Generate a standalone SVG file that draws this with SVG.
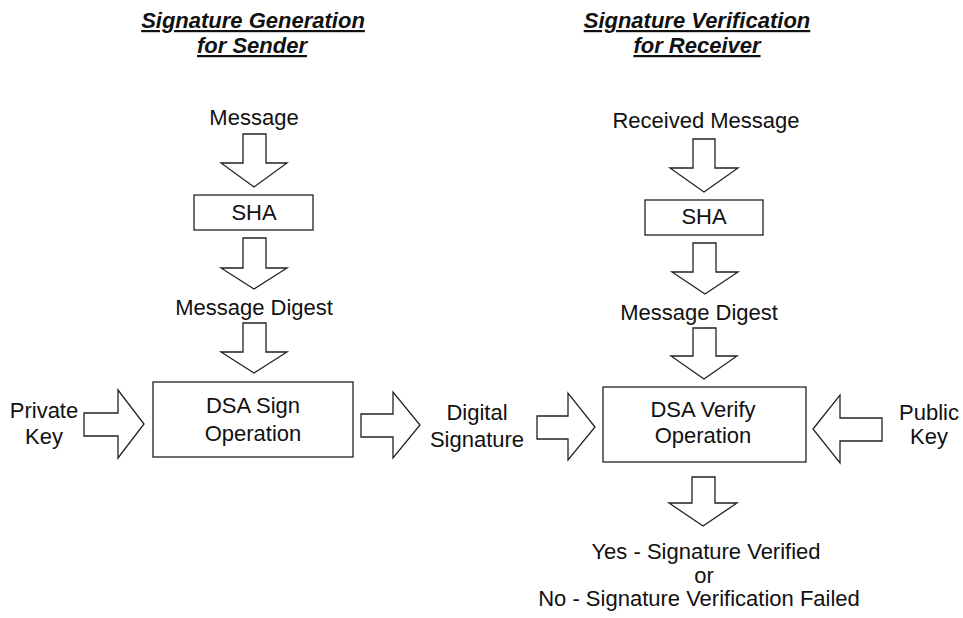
<svg xmlns="http://www.w3.org/2000/svg" width="963" height="618" viewBox="0 0 963 618">
  <style>
    text { font-family: "Liberation Sans", Arial, sans-serif; font-size: 22px; fill: #111; text-anchor: middle; }
    .title { font-weight: bold; font-style: italic; text-decoration: underline; }
    .small { font-size: 21px; }
    .box { fill: #fff; stroke: #222; stroke-width: 1.3; }
    .arrow { fill: #fff; stroke: #222; stroke-width: 1.3; stroke-linejoin: miter; }
  </style>
  <rect width="963" height="618" fill="#fff"/>

  <!-- Column headings -->
  <g id="title-sender">
    <text class="title" x="253" y="28">Signature Generation</text>
    <text class="title" x="252" y="53">for Sender</text>
  </g>
  <g id="title-receiver">
    <text class="title" x="697" y="28">Signature Verification</text>
    <text class="title" x="697" y="53">for Receiver</text>
  </g>

  <!-- Sender side -->
  <g id="message"><text x="254" y="125">Message</text></g>
  <g id="sha-sender">
    <rect class="box" x="194" y="195" width="119" height="35"/>
    <text x="254" y="220">SHA</text>
  </g>
  <g id="digest-sender"><text x="254" y="315">Message Digest</text></g>
  <g id="dsa-sign">
    <rect class="box" x="153" y="382" width="200" height="75"/>
    <text x="253" y="413">DSA Sign</text>
    <text x="253" y="441">Operation</text>
  </g>
  <g id="private-key">
    <text x="44" y="418">Private</text>
    <text x="44" y="444">Key</text>
  </g>
  <g id="digital-signature">
    <text x="477" y="420">Digital</text>
    <text x="477" y="447">Signature</text>
  </g>

  <!-- Receiver side -->
  <g id="received-message"><text x="706" y="128">Received Message</text></g>
  <g id="sha-receiver">
    <rect class="box" x="645" y="200" width="118" height="35"/>
    <text x="704" y="224">SHA</text>
  </g>
  <g id="digest-receiver"><text x="699" y="320">Message Digest</text></g>
  <g id="dsa-verify">
    <rect class="box" x="603" y="387" width="203" height="75"/>
    <text x="703" y="417">DSA Verify</text>
    <text x="703" y="443">Operation</text>
  </g>
  <g id="public-key">
    <text x="929" y="420">Public</text>
    <text x="929" y="444">Key</text>
  </g>
  <g id="result">
    <text x="706" y="559">Yes - Signature Verified</text>
    <text x="704" y="583">or</text>
    <text x="699" y="606">No - Signature Verification Failed</text>
  </g>

  <!-- Block arrows -->
  <g id="connectors">
    <!-- sender column, downward -->
    <polygon class="arrow" points="243,134 266,134 266,163 287,163 254,187 221,163 243,163"/>
    <polygon class="arrow" points="243,238 266,238 266,268 287,268 254,289 221,268 243,268"/>
    <polygon class="arrow" points="243,323 266,323 266,352 287,352 254,373 221,352 243,352"/>
    <!-- receiver column, downward -->
    <polygon class="arrow" points="693,139 715,139 715,168 738,168 704,192 670,168 693,168"/>
    <polygon class="arrow" points="693,243 716,243 716,272 738,272 705,294 672,272 693,272"/>
    <polygon class="arrow" points="693,328 716,328 716,356 737,356 704,379 671,356 693,356"/>
    <polygon class="arrow" points="692,477 715,477 715,503 737,503 703,526 669,503 692,503"/>
    <!-- horizontal arrows -->
    <polygon class="arrow" points="84,413 118,413 118,390 144,424 118,458 118,436 84,436"/>
    <polygon class="arrow" points="361,414 393,414 393,392 420,425 393,458 393,437 361,437"/>
    <polygon class="arrow" points="537,416 568,416 568,393 595,427 568,460 568,439 537,439"/>
    <polygon class="arrow" points="882,418 840,418 840,395 813,429 840,463 840,441 882,441"/>
  </g>
</svg>
